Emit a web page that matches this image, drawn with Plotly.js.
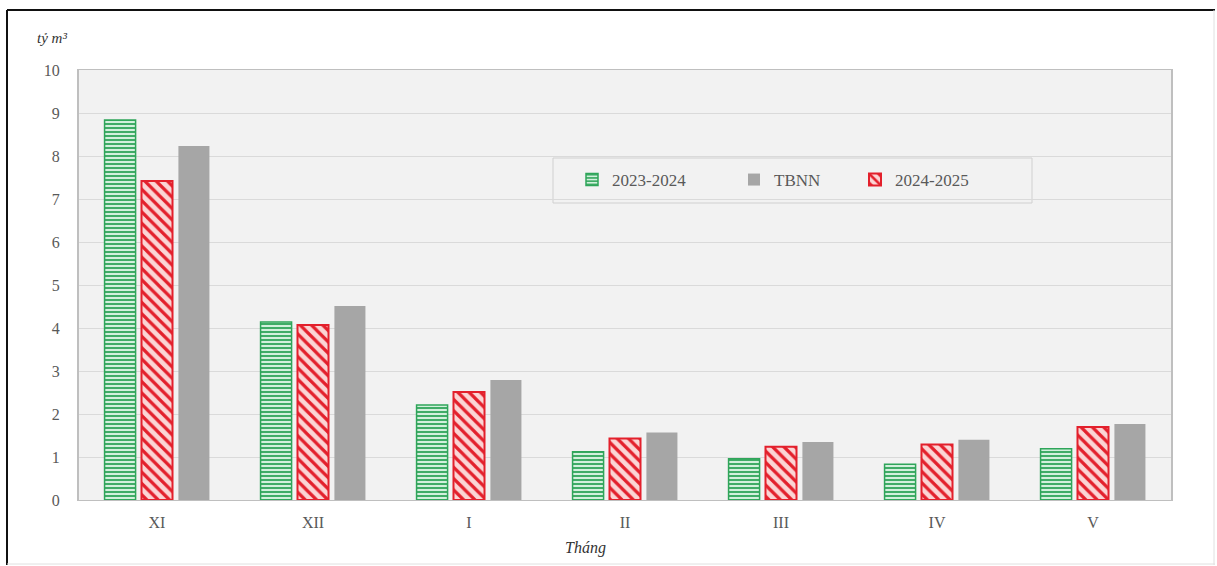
<!DOCTYPE html>
<html>
<head>
<meta charset="utf-8">
<script src="https://cdn.plot.ly/plotly-3.0.1.min.js"></script>
<style>
  html, body { margin: 0; padding: 0; background: #ffffff; }
  #chart { width: 1217px; height: 566px; }
</style>
</head>
<body>
<div id="chart"></div>
<script>
// Monthly volume (tỷ m³), months XI..V
const months = ['XI', 'XII', 'I', 'II', 'III', 'IV', 'V'];
const season2023 = [8.84, 4.14, 2.21, 1.12, 0.96, 0.83, 1.19];
const season2024 = [7.42, 4.07, 2.51, 1.43, 1.24, 1.29, 1.70];
const tbnn = [8.23, 4.51, 2.79, 1.57, 1.35, 1.40, 1.77];
const yTicks = [0, 1, 2, 3, 4, 5, 6, 7, 8, 9, 10];

const serif = '"Liberation Serif", "Times New Roman", serif';

// plot-area geometry in px, used to place frame shapes in paper units
const W = 1217, H = 566;
const L = 79, R = 1171, T = 70, B = 500;
const px = x => (x - L) / (R - L);
const py = y => (B - y) / (B - T);

const legendFont = { family: serif, size: 17, color: '#595959' };
const legendAt = x => ({
  orientation: 'h', x: px(x), xanchor: 'left', y: py(180), yanchor: 'middle',
  bgcolor: 'rgba(0,0,0,0)', borderwidth: 0, font: legendFont, itemwidth: 30
});

const traces = [
  {
    type: 'bar', name: '2023-2024', x: months, y: season2023, legend: 'legend',
    marker: {
      color: '#d3f0dd',
      line: { color: '#2fa55a', width: 1.5 },
      pattern: { shape: '-', fgcolor: '#2fa55a', bgcolor: '#d3f0dd', size: 4, solidity: 0.45 }
    },
    hoverinfo: 'x+y'
  },
  {
    type: 'bar', name: '2024-2025', x: months, y: season2024, legend: 'legend3',
    marker: {
      color: '#fbd5d5',
      line: { color: '#e3202c', width: 2 },
      pattern: { shape: '\\', fgcolor: '#e3202c', bgcolor: '#fbd5d5', size: 8, solidity: 0.4 }
    },
    hoverinfo: 'x+y'
  },
  {
    type: 'bar', name: 'TBNN', x: months, y: tbnn, legend: 'legend2',
    marker: { color: '#a6a6a6', line: { color: '#a6a6a6', width: 0 } },
    hoverinfo: 'x+y'
  }
];

const frame = [
  // outer frame
  { type: 'line', xref: 'paper', yref: 'paper', x0: px(7), x1: px(1215), y0: py(10), y1: py(10),
    line: { color: '#111111', width: 2 } },
  { type: 'line', xref: 'paper', yref: 'paper', x0: px(7), x1: px(7), y0: py(10), y1: py(565),
    line: { color: '#111111', width: 2 } },
  { type: 'line', xref: 'paper', yref: 'paper', x0: px(1214), x1: px(1214), y0: py(10), y1: py(565),
    line: { color: '#e0e0e0', width: 1 } },
  { type: 'line', xref: 'paper', yref: 'paper', x0: px(7), x1: px(1215), y0: py(564), y1: py(564),
    line: { color: '#e0e0e0', width: 1 } },
  // legend box
  { type: 'rect', xref: 'paper', yref: 'paper', x0: px(553), x1: px(1032), y0: py(158), y1: py(203),
    fillcolor: '#f2f2f2', line: { color: '#d0d0d0', width: 1 }, layer: 'below' }
];

const layout = {
  width: W, height: H,
  margin: { l: L, r: W - R, t: T, b: H - B },
  paper_bgcolor: '#ffffff',
  plot_bgcolor: '#f2f2f2',
  font: { family: serif, size: 16, color: '#595959' },
  barmode: 'group',
  bargap: 0.29,
  bargroupgap: 0.16,
  showlegend: true,
  legend: legendAt(572),
  legend2: legendAt(734),
  legend3: legendAt(855),
  xaxis: {
    type: 'category',
    tickfont: { family: serif, size: 16, color: '#595959' },
    showline: true, linecolor: '#bfbfbf', linewidth: 1, mirror: true,
    ticks: '', showgrid: false,
    ticklabelstandoff: 8
  },
  yaxis: {
    range: [0, 10],
    tickvals: yTicks,
    ticktext: yTicks.map(String),
    tickfont: { family: serif, size: 16, color: '#595959' },
    showline: true, linecolor: '#bfbfbf', linewidth: 2, mirror: true,
    gridcolor: '#dadada', gridwidth: 1,
    zeroline: false, ticks: '',
    ticklabelstandoff: 14
  },
  shapes: frame,
  annotations: [
    { xref: 'paper', yref: 'paper', x: px(35), y: py(38), xanchor: 'left', yanchor: 'middle',
      text: '<i>tỷ m³</i>', showarrow: false,
      font: { family: serif, size: 15, color: '#333333' } },
    { xref: 'paper', yref: 'paper', x: px(585), y: py(548), xanchor: 'center', yanchor: 'middle',
      text: '<i>Tháng</i>', showarrow: false,
      font: { family: serif, size: 16, color: '#333333' } }
  ]
};

Plotly.newPlot('chart', traces, layout, { displayModeBar: false, staticPlot: true });
</script>
</body>
</html>
